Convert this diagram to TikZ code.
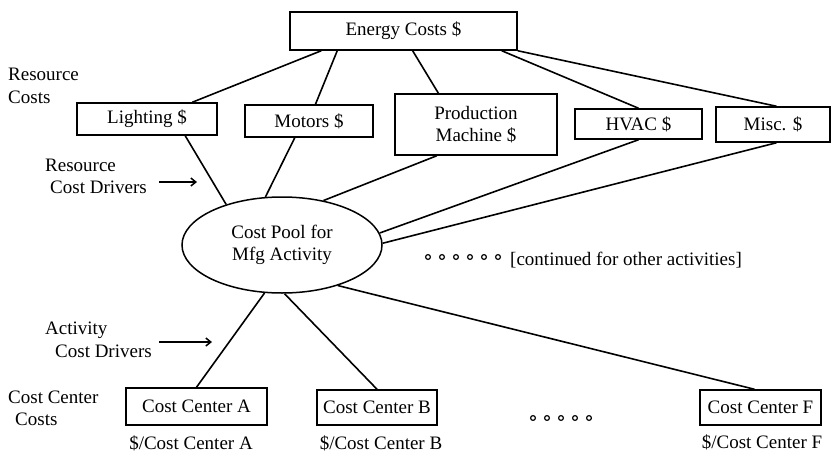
\documentclass[tikz,border=0pt]{standalone}
\usepackage{fontspec}
\setmainfont{Liberation Serif}
\usetikzlibrary{arrows.meta,calc,shapes.geometric}

\begin{document}
\begin{tikzpicture}[x=1pt,y=-1pt,>={Straight Barb[length=5pt,width=8pt]},
  font=\fontsize{19}{22.5}\selectfont,
  costbox/.style={draw,line width=1.5pt,inner sep=0pt,align=center},
  poolnode/.style={draw,ellipse,line width=1.5pt,inner sep=0pt,align=center,
    minimum width=200pt,minimum height=96pt},
  link/.style={line width=1.6pt},
  driver/.style={->,line width=1.5pt},
  sidelabel/.style={align=left,anchor=west,inner sep=0pt}]
  \useasboundingbox (0,0) rectangle (832,455);

  % Energiekosten und Ressourcen
  \node[costbox,minimum width=227pt,minimum height=38pt] (energy) at (403.5,31) {Energy Costs \$};
  \node[costbox,minimum width=140pt,minimum height=32pt] (lighting) at (147,119) {Lighting \$};
  \node[costbox,minimum width=128pt,minimum height=32pt] (motors) at (309,121) {Motors \$};
  \node[costbox,minimum width=162pt,minimum height=61pt] (production) at (476,124.5) {Production\\Machine \$};
  \node[costbox,minimum width=127pt,minimum height=30pt] (hvac) at (638.5,124) {HVAC \$};
  \node[costbox,minimum width=114pt,minimum height=35pt] (misc) at (773,124.5) {Misc. \$};

  % Kostenpool
  \node[poolnode] (pool) at (282,245) {Cost Pool for\\Mfg Activity};

  % Kostenstellen
  \node[costbox,minimum width=141pt,minimum height=37pt] (ccA) at (196.5,406.5) {Cost Center A};
  \node[costbox,minimum width=120pt,minimum height=35pt] (ccB) at (377,407.5) {Cost Center B};
  \node[costbox,minimum width=121pt,minimum height=35pt] (ccF) at (760.5,407.5) {Cost Center F};
  \node (rateA) at (191,443) {\$/Cost Center A};
  \node (rateB) at (381,443) {\$/Cost Center B};
  \node (rateF) at (762,442) {\$/Cost Center F};

  % Beschriftung links
  \node[sidelabel] (rescost) at (8,86) {Resource\\Costs};
  \node[sidelabel] (rcd) at (45,176.5) {Resource\\\hspace*{5pt}Cost Drivers};
  \node[sidelabel] (acd) at (45,340) {Activity\\\hspace*{10pt}Cost Drivers};
  \node[sidelabel] (cccost) at (8,408.5) {Cost Center\\\hspace*{7pt}Costs};
  \node[anchor=west,inner sep=0pt] (cont) at (510,260) {[continued for other activities]};

  \coordinate (rcdtip) at (197,182);
  \coordinate (acdtip) at (212,342);
  \draw[driver,shorten <=12pt] (rcd.east |- rcdtip) -- (rcdtip);
  \draw[driver,shorten <=7pt] (acd.east |- acdtip) -- (acdtip);

  % Energie zu Ressourcen
  \draw[link] ($(energy.south west)!0.14!(energy.south east)$) -- ($(lighting.north west)!0.82!(lighting.north east)$);
  \draw[link] ($(energy.south west)!0.21!(energy.south east)$) -- ($(motors.north west)!0.55!(motors.north east)$);
  \draw[link] ($(energy.south west)!0.54!(energy.south east)$) -- ($(production.north west)!0.27!(production.north east)$);
  \draw[link] ($(energy.south west)!0.93!(energy.south east)$) -- (hvac.north);
  \draw[link] (energy.south east) -- ($(misc.north west)!0.53!(misc.north east)$);

  % Ressourcen zum Pool
  \draw[link] ($(lighting.south west)!0.77!(lighting.south east)$) -- (pool.144);
  \draw[link] ($(motors.south west)!0.39!(motors.south east)$) -- (pool.109);
  \draw[link] ($(production.south west)!0.26!(production.south east)$) -- (pool.47);
  \draw[link] (hvac.south) -- (pool.7);
  \draw[link] ($(misc.south west)!0.53!(misc.south east)$) -- (pool.1);

  % Pool zu Kostenstellen
  \draw[link] (pool.250) -- (ccA.north);
  \draw[link] (pool.273) -- (ccB.north);
  \draw[link] (pool.324) -- ($(ccF.north west)!0.45!(ccF.north east)$);

  % Punkte
  \foreach \i in {0,...,5}
    \draw[line width=1.2pt] (428+14*\i,257) circle (2.4pt);
  \foreach \i in {0,...,4}
    \draw[line width=1.2pt] (533+14*\i,418) circle (2.4pt);
\end{tikzpicture}
\end{document}
